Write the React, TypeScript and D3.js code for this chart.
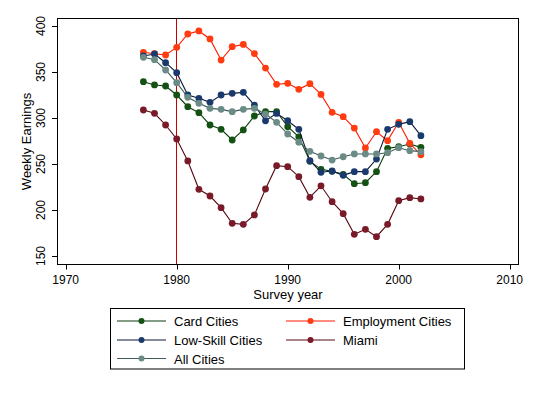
import { useEffect, useRef } from "react";
import * as d3 from "d3";

const years = [
  1977, 1978, 1979, 1980, 1981, 1982, 1983, 1984, 1985, 1986, 1987, 1988, 1989,
  1990, 1991, 1992, 1993, 1994, 1995, 1996, 1997, 1998, 1999, 2000, 2001, 2002,
];

const cardCities = [
  339.5, 335.9, 334.8, 325, 312.3, 305.8, 292.4, 287.7, 276.1, 287, 302.2, 306.9, 306.9,
  290.5, 279.5, 253, 244.2, 242, 238.8, 228.6, 229.7, 241.7, 267, 268.8, 271.7, 268.1,
];
const employmentCities = [
  371.4, 369.9, 368.5, 376.8, 391.3, 394.6, 385.9, 363, 377.5, 380, 370, 354.3, 336.6,
  337.7, 331.2, 337.3, 325.6, 306.2, 301.4, 289, 267.4, 285.1, 275.4, 295.3, 272.5, 260,
];
const lowSkillCities = [
  367.4, 369.6, 360.1, 349.3, 325, 321.4, 317, 325, 326.8, 327.9, 314.1, 297, 305,
  297, 287.7, 253.6, 241, 242.4, 237.7, 241.7, 241.7, 255.4, 287.7, 293.1, 296, 280.8,
];
const miami = [
  308.7, 305.1, 292.4, 277.2, 253.3, 222.5, 215.2, 202.5, 185.5, 184.4, 194.6, 222.8, 248.2,
  247.1, 236.2, 213.8, 226.3, 209, 196, 173.6, 179, 171, 184.4, 210.1, 213.4, 212,
];
const allCities = [
  366, 363.4, 352.2, 338.4, 322.5, 316, 310.5, 309.4, 306.9, 309.4, 310.5, 304.3, 295.3,
  282.6, 273.7, 263.8, 258.7, 254.3, 257.9, 260.9, 260.9, 260.9, 262.3, 267.7, 264.5, 263.4,
];

const xTicks = [1970, 1980, 1990, 2000, 2010];
const yTicks = [150, 200, 250, 300, 350, 400];
const markerYear = 1980;

type Series = { name: string; values: number[]; line: string; dot: string };

const series: Series[] = [
  { name: "Card Cities", values: cardCities, line: "#0b3d0b", dot: "#145214" },
  { name: "Employment Cities", values: employmentCities, line: "#ff1a00", dot: "#ff3b0f" },
  { name: "Low-Skill Cities", values: lowSkillCities, line: "#0d1836", dot: "#1a3a6e" },
  { name: "Miami", values: miami, line: "#560a12", dot: "#7a1a28" },
  { name: "All Cities", values: allCities, line: "#3d5d58", dot: "#6b8b86" },
];

const FONT = "'Liberation Sans', Arial, sans-serif";

export default function App() {
  const ref = useRef<SVGSVGElement | null>(null);

  useEffect(() => {
    if (!ref.current) return;
    const svg = d3.select(ref.current);
    svg.selectAll("*").remove();

    // plot frame (pixel box)
    const left = 57.5, right = 518.5, top = 18.5, bottom = 264.5;

    const x = d3.scaleLinear().domain([1970, 2010]).range([65.7, 509.7]);
    const y = d3.scaleLinear().domain([150, 400]).range([256, 26]);

    svg
      .append("rect")
      .attr("width", 537)
      .attr("height", 393)
      .attr("fill", "#fff");

    // xline at 1980, drawn behind data
    const lx = Math.round(x(markerYear)) - 0.5;
    svg
      .append("line")
      .attr("x1", lx)
      .attr("x2", lx)
      .attr("y1", top)
      .attr("y2", bottom)
      .attr("stroke", "#c80000")
      .attr("stroke-width", 1);

    const line = d3
      .line<number>()
      .x((_, i) => x(years[i]))
      .y((d) => y(d));

    for (const s of series) {
      const g = svg.append("g");
      g.append("path")
        .attr("d", line(s.values))
        .attr("fill", "none")
        .attr("stroke", s.line)
        .attr("stroke-width", 1.1);
      g.selectAll("circle")
        .data(s.values)
        .join("circle")
        .attr("cx", (_, i) => x(years[i]))
        .attr("cy", (d) => y(d))
        .attr("r", 3.4)
        .attr("fill", s.dot);
    }

    // frame
    svg
      .append("rect")
      .attr("x", left)
      .attr("y", top)
      .attr("width", right - left)
      .attr("height", bottom - top)
      .attr("fill", "none")
      .attr("stroke", "#000")
      .attr("stroke-width", 1);

    // y ticks
    const yg = svg.append("g");
    yTicks.forEach((t) => {
      const yy = Math.round(y(t)) + 0.5;
      yg.append("line")
        .attr("x1", 52)
        .attr("x2", left)
        .attr("y1", yy)
        .attr("y2", yy)
        .attr("stroke", "#000");
      yg.append("text")
        .attr("transform", `translate(45,${y(t)}) rotate(-90)`)
        .attr("text-anchor", "middle")
        .attr("font-family", FONT)
        .attr("font-size", 12)
        .attr("fill", "#000")
        .text(t);
    });

    // x ticks
    const xg = svg.append("g");
    xTicks.forEach((t) => {
      const xx = Math.round(x(t)) + 0.5;
      xg.append("line")
        .attr("x1", xx)
        .attr("x2", xx)
        .attr("y1", bottom)
        .attr("y2", 269.5)
        .attr("stroke", "#000");
      xg.append("text")
        .attr("x", x(t))
        .attr("y", 284)
        .attr("text-anchor", "middle")
        .attr("font-family", FONT)
        .attr("font-size", 12)
        .attr("fill", "#000")
        .text(t);
    });

    // axis titles
    svg
      .append("text")
      .attr("x", (left + right) / 2)
      .attr("y", 298.5)
      .attr("text-anchor", "middle")
      .attr("font-family", FONT)
      .attr("font-size", 13)
      .attr("fill", "#000")
      .text("Survey year");

    svg
      .append("text")
      .attr("transform", `translate(31,${(top + bottom) / 2}) rotate(-90)`)
      .attr("text-anchor", "middle")
      .attr("font-family", FONT)
      .attr("font-size", 13)
      .attr("fill", "#000")
      .text("Weekly Earnings");

    // legend
    svg
      .append("rect")
      .attr("x", 110.5)
      .attr("y", 308.5)
      .attr("width", 354)
      .attr("height", 60.5)
      .attr("fill", "#fff")
      .attr("stroke", "#000");

    const rowsY = [321, 340, 358.5];
    const colsX = [117, 286];
    series.forEach((s, i) => {
      const cx = colsX[i % 2];
      const cy = rowsY[Math.floor(i / 2)];
      const lg = svg.append("g");
      lg.append("line")
        .attr("x1", cx)
        .attr("x2", cx + 49)
        .attr("y1", cy)
        .attr("y2", cy)
        .attr("stroke", s.line)
        .attr("stroke-width", 1.1);
      lg.append("circle")
        .attr("cx", cx + 24.5)
        .attr("cy", cy)
        .attr("r", 3)
        .attr("fill", s.dot);
      lg.append("text")
        .attr("x", cx + 57)
        .attr("y", cy + 5)
        .attr("font-family", FONT)
        .attr("font-size", 13)
        .attr("fill", "#000")
        .text(s.name);
    });
  }, []);

  return (
    <svg
      ref={ref}
      width={537}
      height={393}
      style={{ position: "absolute", left: 0, top: 0 }}
    />
  );
}
